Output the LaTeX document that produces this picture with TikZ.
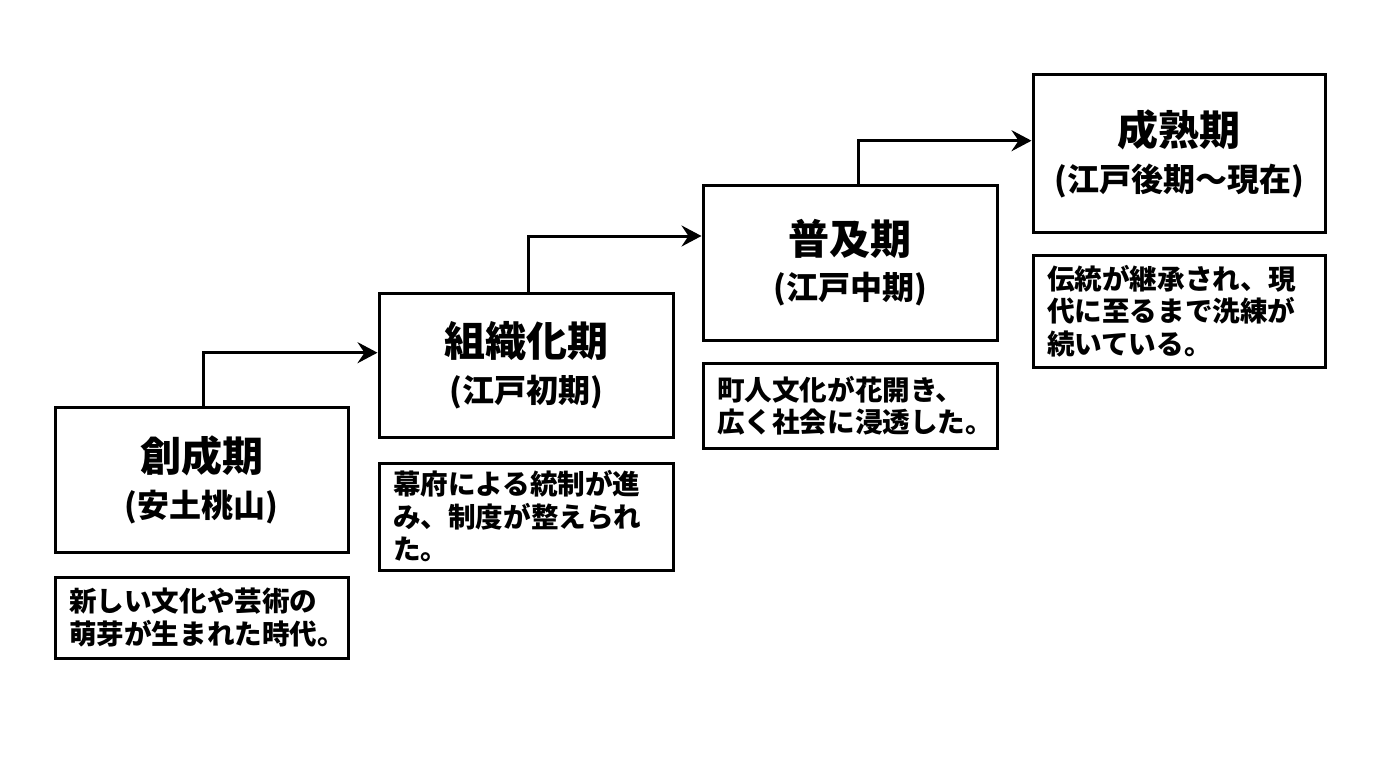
\documentclass[tikz,border=0pt]{standalone}
\usepackage{fontspec}
\setmainfont{Noto Sans CJK JP}
\usetikzlibrary{arrows.meta,positioning,calc}
\tikzset{
  period/.style={draw, line width=3pt, rectangle, inner sep=0pt, align=center, font=\bfseries},
  descbox/.style={draw, line width=3pt, rectangle, inner xsep=14pt, inner ysep=0pt, align=left,
     font=\bfseries\fontsize{27.6}{32.5}\selectfont},
  arr/.style={line width=3pt, -{Stealth[length=20pt,width=21pt,inset=7pt]}},
}
\newcommand{\ttl}[2]{{\fontsize{41}{41}\selectfont #1}\\[13pt]{\fontsize{32}{32}\selectfont #2}}
\begin{document}
\begin{tikzpicture}[x=1pt,y=-1pt]
\useasboundingbox (0,0) rectangle (1376,768);
% period boxes
\node[period, minimum width=293pt, minimum height=145pt] (b1) at (201.5,479.5) {\ttl{創成期}{(安土桃山)}};
\node[period, minimum width=294pt, minimum height=144pt] (b2) at (526,365) {\ttl{組織化期}{(江戸初期)}};
\node[period, minimum width=294pt, minimum height=155pt] (b3) at (850,262.5) {\ttl{普及期}{(江戸中期)}};
\node[period, minimum width=292pt, minimum height=157pt] (b4) at (1179,153.5) {\ttl{成熟期}{(江戸後期～現在)}};
% descriptions
\node[descbox, text width=265pt, minimum height=81pt] (d1) at (201.5,617.5) {新しい文化や芸術の\\萌芽が生まれた時代。};
\node[descbox, text width=266pt, minimum height=107pt] (d2) at (526,516.5) {幕府による統制が進\\み、制度が整えられ\\た。};
\node[descbox, text width=266pt, minimum height=85pt] (d3) at (850,405.5) {町人文化が花開き、\\広く社会に浸透した。};
\node[descbox, text width=264pt, minimum height=112pt] (d4) at (1179,311) {伝統が継承され、現\\代に至るまで洗練が\\続いている。};
% turning levels
\coordinate (k1) at (0,352.7);
\coordinate (k2) at (0,236);
\coordinate (k3) at (0,140.7);
\draw[arr] ([xshift=1.5pt]b1.north) |- (b2.west |- k1);
\draw[arr] ([xshift=2pt]b2.north) |- (b3.west |- k2);
\draw[arr] ([xshift=8pt]b3.north) |- (b4.west |- k3);
\end{tikzpicture}
\end{document}
